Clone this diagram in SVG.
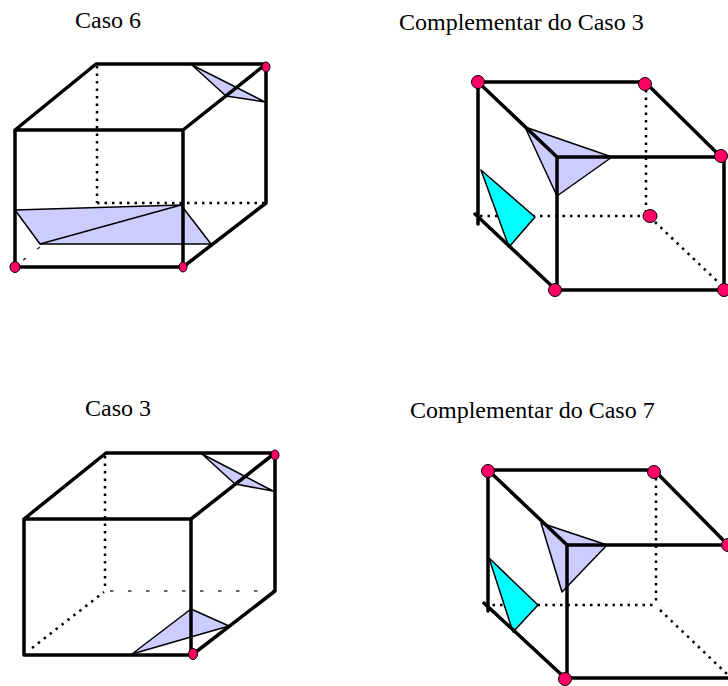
<svg xmlns="http://www.w3.org/2000/svg" width="728" height="686" viewBox="0 0 728 686">
<style>
.t{font-family:"Liberation Serif","Times New Roman",serif;font-size:24px;fill:#000}
.e{fill:none;stroke:#000;stroke-width:3.500;stroke-linecap:round;stroke-linejoin:round}
.d{fill:none;stroke:#000;stroke-width:2.500;stroke-dasharray:2.500 5}
.f{fill:none;stroke:#333;stroke-width:1.500;stroke-dasharray:3.500 14.500}
.b{fill:#ccccff;stroke:#000;stroke-width:1.500;stroke-linejoin:round}
.c{fill:#00ffff;stroke:#000;stroke-width:1.500;stroke-linejoin:round}
.v{fill:#ff0066;stroke:#000;stroke-width:1}
</style>
<g id="labels">
<text class="t" x="75" y="28">Caso 6</text>
<text class="t" x="399" y="30">Complementar do Caso 3</text>
<text class="t" x="85" y="416">Caso 3</text>
<text class="t" x="410" y="418">Complementar do Caso 7</text>
</g>
<g id="cube1">
<path class="d" d="M97 66V203M97 203H265"/>
<path class="f" d="M40 247L17 265" stroke-dasharray="3 6"/>
<path class="b" d="M15 210L181 205L211 244H40Z"/>
<path class="b" d="M181 205L40 244"/>
<path class="b" d="M192 65L265 102L226 96Z"/>
<path class="e" d="M96 64H266M96 64L15 130H183L266 64V203L183 267H15V130M183 131V267"/>
<ellipse class="v" cx="266" cy="67" rx="4" ry="5"/>
<ellipse class="v" cx="15" cy="267" rx="5" ry="5.500"/>
<ellipse class="v" cx="183" cy="267" rx="4" ry="5"/>
</g>
<g id="cube2">
<path class="d" d="M646 90V212M480 216H645"/>
<path class="d" d="M655 222L718 282" stroke-dasharray="2.500 7"/>
<path class="b" d="M525 127L612 157L557 196Z"/>
<path class="c" d="M481 170L535 217L509 247Z"/>
<path class="e" d="M478 82H645L721 157H557L478 82V224M475 214L556 290H724V157M557 157V290"/>
<circle class="v" cx="478" cy="82" r="6.500"/>
<circle class="v" cx="645" cy="84" r="6.500"/>
<circle class="v" cx="721" cy="156" r="6.500"/>
<ellipse class="v" cx="650" cy="216" rx="7" ry="6.500"/>
<circle class="v" cx="555" cy="290" r="6.500"/>
<circle class="v" cx="724" cy="290" r="6.500"/>
</g>
<g id="cube3">
<path class="d" d="M105 456V591"/>
<path class="d" d="M32 648L104 592" stroke-dasharray="2.500 7"/>
<path class="f" d="M110 591H275"/>
<path class="b" d="M202 454L273 491L235 484Z"/>
<path class="b" d="M132 654L191 609L229 626Z"/>
<path class="e" d="M106 453H275M106 453L24 519H191L275 453V591L192 655H24V519M191 519V655"/>
<ellipse class="v" cx="275" cy="455" rx="4" ry="5"/>
<ellipse class="v" cx="193" cy="654" rx="4.500" ry="5.500"/>
</g>
<g id="cube4">
<path class="d" d="M656 478V605M485 605H656"/>
<path class="d" d="M660 610L728 675" stroke-dasharray="2.500 7"/>
<path class="b" d="M541 523L607 545L562 592Z"/>
<path class="c" d="M489 558L538 605L513 632Z"/>
<path class="e" d="M488 470H654L728 545H567L488 470V611M484 603L565 678H728M567 545V678"/>
<circle class="v" cx="488" cy="471" r="6.500"/>
<circle class="v" cx="654" cy="472" r="6.500"/>
<circle class="v" cx="728" cy="545" r="6.500"/>
<circle class="v" cx="565" cy="679" r="6.500"/>
</g>
</svg>
